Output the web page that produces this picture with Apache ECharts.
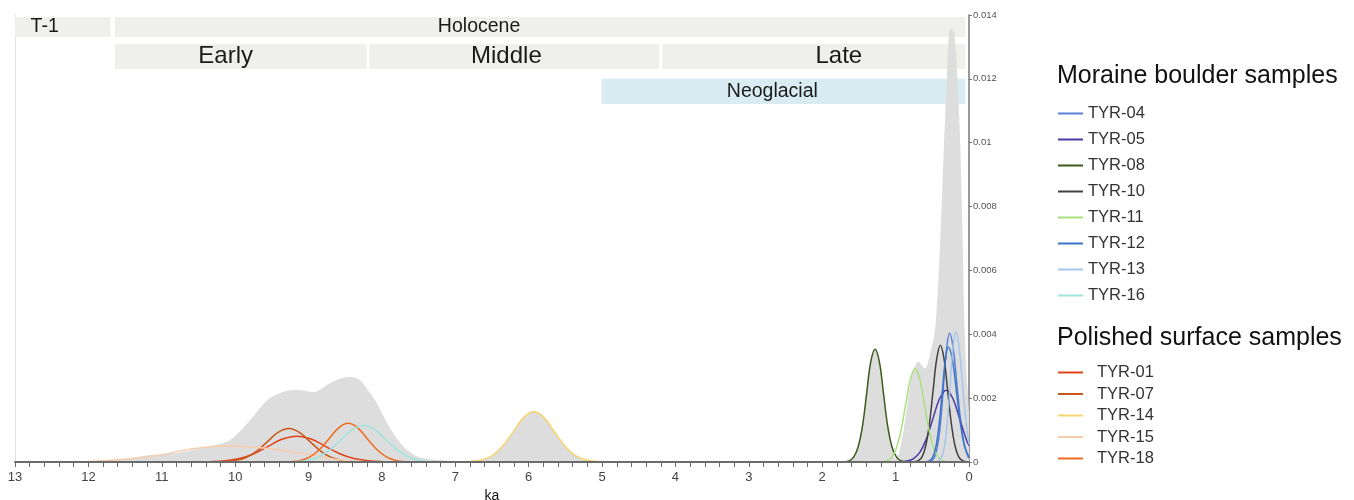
<!DOCTYPE html>
<html>
<head>
<meta charset="utf-8">
<script src="https://cdn.jsdelivr.net/npm/echarts@6/dist/echarts.min.js"></script>
<style>
html, body { margin: 0; padding: 0; background: #fff; }
#chart { width: 1354px; height: 500px; }
</style>
</head>
<body>
<div id="chart"></div>
<script>
// age axis (ka) and probability ticks
var ageTicks = [0, 1, 2, 3, 4, 5, 6, 7, 8, 9, 10, 11, 12, 13];
var probTicks = [0, 0.002, 0.004, 0.006, 0.008, 0.01, 0.012, 0.014];

// time periods drawn as bands at the top: [name, older ka, younger ka, row]
var periods = [
	['T-1', 13.0, 11.70, 0],
	['Holocene', 11.64, 0.05, 0],
	['Early', 11.64, 8.21, 1],
	['Middle', 8.17, 4.22, 1],
	['Late', 4.18, 0.05, 1],
	['Neoglacial', 5.01, 0.05, 2]
];

// summed probability (grey area), [ka, density]
var summed = [
	[0, 0.0016], [0.054, 0.0037], [0.086, 0.0069], [0.12, 0.0100], [0.16, 0.0121], [0.2, 0.0134],
	[0.24, 0.01358], [0.27, 0.0135], [0.30, 0.0121], [0.34, 0.0100], [0.395, 0.0068], [0.46, 0.0042],
	[0.53, 0.0034], [0.60, 0.00293], [0.69, 0.00314], [0.78, 0.0027], [0.87, 0.0013], [0.95, 0.0003],
	[1.0, 0.0001], [1.05, 0.00048], [1.11, 0.00115], [1.17, 0.00215], [1.22, 0.00314], [1.28, 0.00355],
	[1.34, 0.00314], [1.40, 0.00214], [1.45, 0.00115], [1.51, 0.00048], [1.57, 0.00016], [1.65, 0.00002],
	[1.75, 0], [4.95, 0], [5.09, 0.00002], [5.23, 0.00007], [5.37, 0.00021], [5.51, 0.00052], [5.65, 0.00096],
	[5.79, 0.0014], [5.93, 0.00158], [6.07, 0.0014], [6.21, 0.00096], [6.35, 0.00052], [6.49, 0.00021],
	[6.63, 0.00007], [6.77, 0.00002], [6.9, 0], [7.2, 0.00006], [7.5, 0.00016], [7.7, 0.00047], [7.9, 0.0011],
	[8.07, 0.00185], [8.16, 0.00215], [8.3, 0.00257], [8.43, 0.00266], [8.55, 0.00262], [8.71, 0.00247],
	[8.94, 0.00219], [9.16, 0.00226], [9.35, 0.00219], [9.56, 0.00194], [9.8, 0.0013], [10.07, 0.00069],
	[10.34, 0.0005], [10.75, 0.0003], [11.16, 0.00022], [11.5, 0.0001], [11.84, 0.00003], [12.4, 0]
];

// moraine boulder samples
var tyr04 = [[0, 0.00012], [0.015, 0.00018], [0.065, 0.00055], [0.115, 0.00131], [0.165, 0.00244], [0.215, 0.00356], [0.265, 0.00403], [0.305, 0.00356], [0.345, 0.00244], [0.385, 0.00131], [0.425, 0.00055], [0.465, 0.00018], [0.505, 0.00004], [0.545, 0.00001]];
var tyr05 = [[0, 0.00051], [0.04, 0.00073], [0.13, 0.00137], [0.22, 0.00199], [0.31, 0.00225], [0.40, 0.00199], [0.49, 0.00137], [0.58, 0.00073], [0.67, 0.0003], [0.76, 0.0001], [0.85, 0.00003], [0.94, 0.00001]];
var tyr08 = [[0.88, 0.00001], [0.935, 0.00004], [0.99, 0.00016], [1.05, 0.00048], [1.11, 0.00115], [1.165, 0.00214], [1.22, 0.00312], [1.28, 0.00353], [1.34, 0.00312], [1.395, 0.00214], [1.45, 0.00115], [1.51, 0.00048], [1.57, 0.00016], [1.625, 0.00004], [1.68, 0.00001]];
var tyr10 = [[0.04, 0.00001], [0.09, 0.00004], [0.14, 0.00016], [0.19, 0.0005], [0.24, 0.00119], [0.29, 0.00222], [0.34, 0.00323], [0.39, 0.00366], [0.44, 0.00323], [0.49, 0.00222], [0.54, 0.00119], [0.59, 0.0005], [0.64, 0.00016], [0.69, 0.00004], [0.74, 0.00001]];
var tyr11 = [[0.28, 0.00001], [0.345, 0.00003], [0.41, 0.00013], [0.475, 0.0004], [0.54, 0.00095], [0.605, 0.00177], [0.67, 0.00258], [0.735, 0.00292], [0.80, 0.00258], [0.865, 0.00177], [0.93, 0.00095], [0.995, 0.0004], [1.06, 0.00013], [1.125, 0.00003], [1.19, 0.00001]];
var tyr12 = [[0, 0.00015], [0.06, 0.00049], [0.115, 0.00117], [0.17, 0.00218], [0.225, 0.00318], [0.28, 0.0036], [0.3225, 0.00318], [0.365, 0.00218], [0.4075, 0.00117], [0.45, 0.00049], [0.4925, 0.00016], [0.535, 0.00004], [0.58, 0.00001]];
var tyr13 = [[0, 0.00055], [0.045, 0.00133], [0.09, 0.00248], [0.135, 0.0036], [0.18, 0.00408], [0.2175, 0.0036], [0.255, 0.00248], [0.2925, 0.00133], [0.33, 0.00055], [0.3675, 0.00018], [0.405, 0.00005], [0.4425, 0.00001]];
var tyr16 = [[7.165, 0], [7.32, 0.00001], [7.475, 0.00005], [7.63, 0.00015], [7.785, 0.00037], [7.94, 0.00069], [8.095, 0.00101], [8.25, 0.00114], [8.405, 0.00101], [8.56, 0.00069], [8.715, 0.00037], [8.87, 0.00015], [9.025, 0.00005], [9.18, 0.00001], [9.335, 0]];

// polished surface samples
var tyr01 = [[7.795, 0], [7.99, 0.00001], [8.185, 0.00004], [8.38, 0.00011], [8.575, 0.00026], [8.77, 0.00049], [8.965, 0.00072], [9.16, 0.00081], [9.355, 0.00072], [9.55, 0.00049], [9.745, 0.00026], [9.94, 0.00011], [10.135, 0.00004], [10.33, 0.00001], [10.525, 0]];
var tyr07 = [[8.255, 0], [8.40, 0.00001], [8.545, 0.00005], [8.69, 0.00014], [8.835, 0.00034], [8.98, 0.00064], [9.125, 0.00093], [9.27, 0.00105], [9.415, 0.00093], [9.56, 0.00064], [9.705, 0.00034], [9.85, 0.00014], [9.995, 0.00005], [10.14, 0.00001], [10.285, 0]];
var tyr14 = [[4.95, 0], [5.09, 0.00002], [5.23, 0.00007], [5.37, 0.00021], [5.51, 0.00051], [5.65, 0.00095], [5.79, 0.00139], [5.93, 0.00157], [6.07, 0.00139], [6.21, 0.00095], [6.35, 0.00051], [6.49, 0.00021], [6.63, 0.00007], [6.77, 0.00002], [6.91, 0]];
var tyr15 = [[8.2, 0], [8.35, 0.00002], [8.6, 0.00008], [8.8, 0.00016], [9.0, 0.00024], [9.3, 0.00034], [9.5, 0.00041], [9.8, 0.00047], [10.1, 0.0005], [10.4, 0.00046], [10.7, 0.00037], [10.9, 0.00027], [11.16, 0.00017], [11.4, 0.00011], [11.8, 0.00004], [12.2, 0]];
var tyr18 = [[7.55, 0], [7.68, 0.00001], [7.81, 0.00005], [7.94, 0.00016], [8.07, 0.00039], [8.20, 0.00073], [8.33, 0.00107], [8.46, 0.00121], [8.59, 0.00107], [8.72, 0.00073], [8.85, 0.00039], [8.98, 0.00016], [9.11, 0.00005], [9.24, 0.00001], [9.37, 0]];

var moraineNames = ['TYR-04', 'TYR-05', 'TYR-08', 'TYR-10', 'TYR-11', 'TYR-12', 'TYR-13', 'TYR-16'];
var moraineData = [tyr04, tyr05, tyr08, tyr10, tyr11, tyr12, tyr13, tyr16];
var moraineColors = ['#5b7fd8', '#4a3aa6', '#3c5a1c', '#404040', '#a9e07f', '#3a74c6', '#a4c6ec', '#a0e4df'];

var polishedNames = ['TYR-01', 'TYR-07', 'TYR-14', 'TYR-15', 'TYR-18'];
var polishedData = [tyr01, tyr07, tyr14, tyr15, tyr18];
var polishedColors = ['#e0441c', '#c9591b', '#f8d470', '#f9ccac', '#ef6c22'];

// band rows: [top, bottom] in density units
var bandRows = [[0.01394, 0.01331], [0.01309, 0.01231], [0.01200, 0.01121]];
var bandStyle = {
	'T-1': { color: '#efefeb', size: 19.5, dx: -18 },
	'Holocene': { color: '#efefeb', size: 19.5, dx: -61 },
	'Early': { color: '#efefeb', size: 24, dx: -15 },
	'Middle': { color: '#efefeb', size: 24, dx: -8 },
	'Late': { color: '#efefeb', size: 24, dx: 25 },
	'Neoglacial': { color: '#daecf3', size: 19.5, dx: -11 }
};

var bands = periods.map(function(p) {
	var st = bandStyle[p[0]];
	var row = bandRows[p[3]];
	return [{
		name: p[0],
		xAxis: p[1], yAxis: row[0],
		itemStyle: { color: st.color },
		label: { show: true, position: 'inside', offset: [st.dx, 0], fontSize: st.size, color: '#1a1a1a' }
	}, { xAxis: p[2], yAxis: row[1] }];
});

var series = [{
	name: 'summed',
	type: 'line',
	data: summed,
	smooth: 0.3,
	symbol: 'none',
	lineStyle: { width: 0 },
	areaStyle: { color: '#dcdddc', opacity: 1 },
	silent: true,
	z: 1,
	markArea: { silent: true, data: bands }
}];

function addLines(names, datas, colors) {
	names.forEach(function(n, i) {
		series.push({
			name: n,
			type: 'line',
			data: datas[i],
			smooth: 0.4,
			symbol: 'none',
			color: colors[i],
			lineStyle: { width: 1.5, color: colors[i] },
			z: 3
		});
	});
}
addLines(polishedNames, polishedData, polishedColors);
addLines(moraineNames, moraineData, moraineColors);

var myChart = echarts.init(document.getElementById('chart'));
var option = {
	animation: false,
	textStyle: { fontFamily: 'Liberation Sans, Arial, sans-serif' },
	title: [
		{ text: 'Moraine boulder samples', left: 1052, top: 59, textStyle: { fontSize: 25, fontWeight: 'normal', color: '#111' } },
		{ text: 'Polished surface samples', left: 1052, top: 321, textStyle: { fontSize: 25, fontWeight: 'normal', color: '#111' } }
	],
	legend: [{
		data: moraineNames,
		orient: 'vertical',
		left: 1053, top: 100,
		icon: 'rect', itemWidth: 25, itemHeight: 2, itemGap: 9,
		selectedMode: false,
		textStyle: { fontSize: 16.5, lineHeight: 17, color: '#333' }
	}, {
		data: polishedNames,
		orient: 'vertical',
		left: 1053, top: 359,
		icon: 'rect', itemWidth: 25, itemHeight: 2, itemGap: 4.5,
		selectedMode: false,
		textStyle: { fontSize: 16.5, lineHeight: 17, color: '#333', padding: [0, 0, 0, 9] }
	}],
	grid: { left: 15, right: 385, top: 15, bottom: 38, outerBoundsMode: 'none' },
	xAxis: {
		type: 'value',
		inverse: true,
		z: 10,
		min: ageTicks[0], max: ageTicks[ageTicks.length - 1], interval: 1,
		name: 'ka', nameLocation: 'middle', nameGap: 22,
		nameTextStyle: { fontSize: 14, color: '#111' },
		axisLine: { lineStyle: { color: '#6b6b6b', width: 2 } },
		axisTick: { show: true, length: 5, lineStyle: { color: '#6b6b6b' } },
		minorTick: { show: true, splitNumber: 5, length: 5, lineStyle: { color: '#6b6b6b' } },
		axisLabel: { fontSize: 13, color: '#444', margin: 9 },
		splitLine: { show: false }
	},
	yAxis: [{
		type: 'value',
		position: 'right',
		min: probTicks[0], max: probTicks[probTicks.length - 1], interval: 0.002,
		axisLine: { show: true, lineStyle: { color: '#777', width: 1.5 } },
		axisTick: { show: true, length: 3, lineStyle: { color: '#777' } },
		axisLabel: { fontSize: 9.5, color: '#555', margin: 4 },
		splitLine: { show: false }
	}, {
		type: 'value',
		position: 'left',
		min: probTicks[0], max: probTicks[probTicks.length - 1], interval: 0.002,
		axisLine: { show: true, lineStyle: { color: '#e2e2e2', width: 1 } },
		axisTick: { show: false },
		axisLabel: { show: false },
		splitLine: { show: false }
	}],
	series: series
};
myChart.setOption(option);
</script>
</body>
</html>
